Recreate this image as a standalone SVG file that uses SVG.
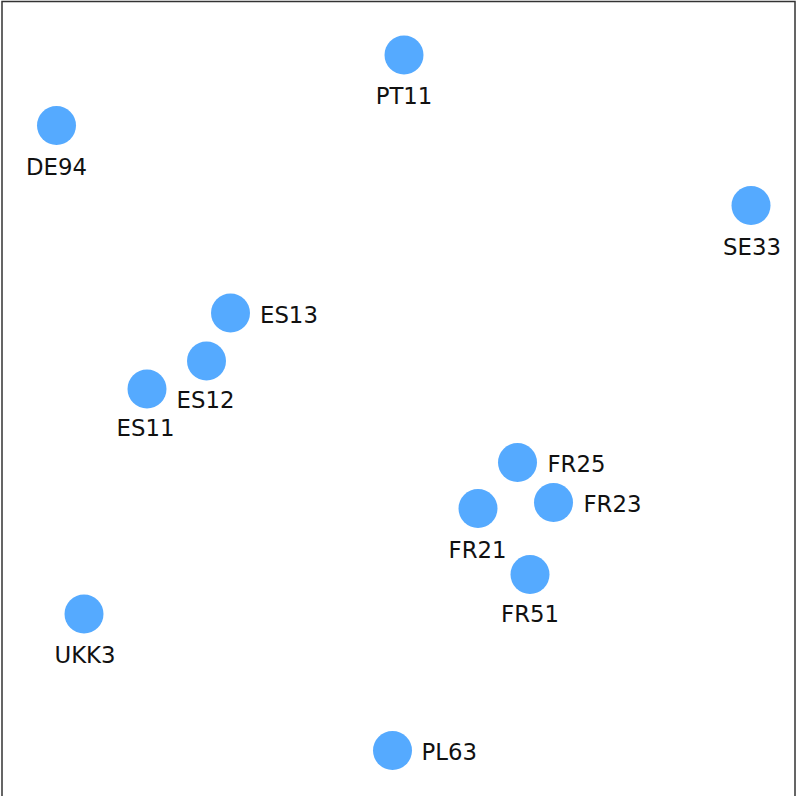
<svg xmlns="http://www.w3.org/2000/svg" width="796" height="796" viewBox="0 0 796 796">
  <style>
    .node circle { fill: #55aaff; }
    .node text { font-family: "DejaVu Sans", Verdana, sans-serif; font-size: 22.8px; fill: #111; }
    .below { text-anchor: middle; }
    .right { text-anchor: start; }
  </style>
  <rect x="0" y="0" width="796" height="796" fill="#ffffff"/>
  <!-- frame (open at the bottom edge) -->
  <rect x="2" y="1.5" width="793" height="820" fill="none" stroke="#333" stroke-width="1.5"/>
  <g id="connectors"></g>
  <g id="nodes">
    <g class="node" id="PT11"><circle cx="404" cy="55" r="19.5"/><text class="below" x="404" y="104">PT11</text></g>
    <g class="node" id="DE94"><circle cx="56.5" cy="125.5" r="19.5"/><text class="below" x="56.5" y="175">DE94</text></g>
    <g class="node" id="SE33"><circle cx="751" cy="205.5" r="19.5"/><text class="below" x="752" y="255">SE33</text></g>
    <g class="node" id="ES13"><circle cx="230.5" cy="313" r="19.5"/><text class="right" x="260" y="322.5">ES13</text></g>
    <g class="node" id="ES12"><circle cx="206.5" cy="361" r="19.5"/><text class="below" x="205.5" y="408">ES12</text></g>
    <g class="node" id="ES11"><circle cx="147" cy="389" r="19.5"/><text class="below" x="145.5" y="436">ES11</text></g>
    <g class="node" id="FR25"><circle cx="517.5" cy="462.5" r="19.5"/><text class="right" x="547.5" y="472">FR25</text></g>
    <g class="node" id="FR23"><circle cx="553.5" cy="502.5" r="19.5"/><text class="right" x="583.5" y="512">FR23</text></g>
    <g class="node" id="FR21"><circle cx="478" cy="508.5" r="19.5"/><text class="below" x="477.5" y="558">FR21</text></g>
    <g class="node" id="FR51"><circle cx="530" cy="574.5" r="19.5"/><text class="below" x="530" y="621.5">FR51</text></g>
    <g class="node" id="UKK3"><circle cx="84" cy="614" r="19.5"/><text class="below" x="85" y="663">UKK3</text></g>
    <g class="node" id="PL63"><circle cx="392.5" cy="750.5" r="19.5"/><text class="right" x="421.5" y="760">PL63</text></g>
  </g>
</svg>
